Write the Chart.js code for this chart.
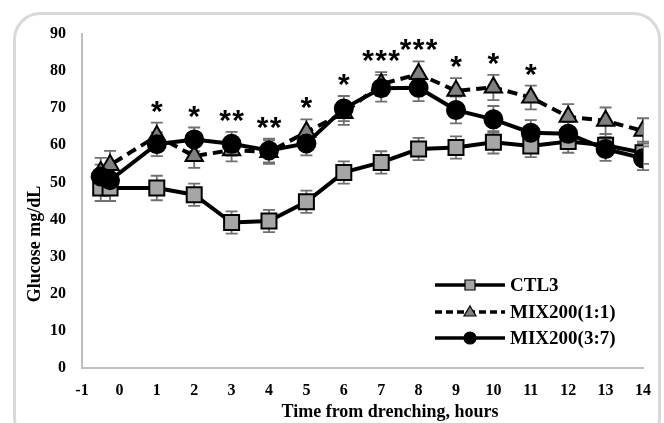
<!DOCTYPE html>
<html>
<head>
<meta charset="utf-8">
<script src="https://cdn.jsdelivr.net/npm/chart.js@4"></script>
<style>
  html, body { margin: 0; padding: 0; background: #fff; }
  #wrap { position: relative; width: 664px; height: 423px; }
</style>
</head>
<body>
<div id="wrap"><canvas id="chart" width="664" height="423"></canvas></div>
<script>
// Glucose after drenching — three groups, mean +/- SE
const hours = [-0.5, -0.25, 1, 2, 3, 4, 5, 6, 7, 8, 9, 10, 11, 12, 13, 14];
const ctl3 = [48.5, 48.5, 48.5, 46.7, 39.2, 39.6, 44.8, 52.7, 55.4, 59.0, 59.4, 60.8, 59.8, 61.0, 60.0, 58.0];
const ctl3Err = [3.5, 3.5, 3.3, 3.0, 3.0, 3.0, 3.0, 3.0, 3.0, 3.0, 3.0, 3.0, 3.0, 3.0, 3.0, 3.0];
const mix11 = [52.8, 54.7, 62.5, 57.1, 58.7, 58.2, 63.6, 68.7, 76.5, 79.2, 74.7, 75.6, 72.9, 67.7, 66.6, 63.9];
const mix11Err = [3.8, 3.8, 3.6, 3.2, 3.0, 3.2, 3.4, 3.2, 3.2, 3.4, 3.4, 3.4, 3.2, 3.4, 3.6, 3.4];
const mix37 = [51.6, 50.6, 60.3, 61.6, 60.4, 58.6, 60.5, 69.9, 75.4, 75.5, 69.5, 67.0, 63.4, 63.1, 59.0, 56.5];
const mix37Err = [3.2, 3.2, 3.2, 3.2, 3.2, 3.2, 3.2, 3.4, 3.6, 3.6, 3.6, 3.6, 3.4, 3.2, 3.2, 3.2];
const starHours = [1, 2, 3, 4, 5, 6, 7, 8, 9, 10, 11];
const starText = ['*', '*', '**', '**', '*', '*', '***', '***', '*', '*', '*'];
const yTicks = [0, 10, 20, 30, 40, 50, 60, 70, 80, 90];
const xTicks = [-1, 0, 1, 2, 3, 4, 5, 6, 7, 8, 9, 10, 11, 12, 13, 14];

const serif = '"Liberation Serif", "Times New Roman", serif';
const series = [
  { label: 'CTL3', y: ctl3, err: ctl3Err, shape: 'rect', r: 10.6, fill: '#a6a6a6', dash: [], order: 2 },
  { label: 'MIX200(1:1)', y: mix11, err: mix11Err, shape: 'triangle', r: 10, fill: '#808080', dash: [10, 6], order: 1 },
  { label: 'MIX200(3:7)', y: mix37, err: mix37Err, shape: 'circle', r: 9, fill: '#000000', dash: [], order: 0 }
];

const datasets = series.map(s => ({
  label: s.label,
  data: hours.map((h, i) => ({ x: h, y: s.y[i] })),
  borderColor: '#000',
  borderWidth: 4,
  borderDash: s.dash,
  pointStyle: s.shape,
  pointRadius: s.r,
  pointBackgroundColor: s.fill,
  pointBorderColor: '#000',
  pointBorderWidth: 2,
  order: s.order,
  tension: 0
}));

// rounded outer frame
const framePlugin = {
  id: 'frame',
  beforeDraw(chart) {
    const ctx = chart.ctx;
    ctx.save();
    ctx.strokeStyle = '#d9d9d9';
    ctx.lineWidth = 3;
    ctx.beginPath();
    ctx.roundRect(14.5, 13.5, 645, 430, 26);
    ctx.stroke();
    ctx.restore();
  }
};

// SE bars behind markers
const errorBars = {
  id: 'errorBars',
  beforeDatasetsDraw(chart) {
    const { ctx, scales: { x, y } } = chart;
    ctx.save();
    ctx.strokeStyle = '#707070';
    ctx.lineWidth = 1.8;
    series.forEach(s => {
      hours.forEach((h, i) => {
        const px = x.getPixelForValue(h);
        const top = y.getPixelForValue(s.y[i] + s.err[i]);
        const bot = y.getPixelForValue(s.y[i] - s.err[i]);
        ctx.beginPath();
        ctx.moveTo(px, top); ctx.lineTo(px, bot);
        ctx.moveTo(px - 6, top); ctx.lineTo(px + 6, top);
        ctx.moveTo(px - 6, bot); ctx.lineTo(px + 6, bot);
        ctx.stroke();
      });
    });
    ctx.restore();
  }
};

// stars, titles and legend
const extras = {
  id: 'extras',
  afterDraw(chart) {
    const { ctx, scales: { x, y } } = chart;
    ctx.save();
    ctx.fillStyle = '#000';
    ctx.textAlign = 'center';
    ctx.textBaseline = 'alphabetic';
    ctx.font = 'bold 30px "Liberation Sans", Arial, sans-serif';
    starHours.forEach((h, k) => {
      const i = hours.indexOf(h);
      const top = Math.max(...series.map(s => s.y[i] + s.err[i]));
      const px = x.getPixelForValue(h);
      const py = y.getPixelForValue(top) - 14;
      const t = starText[k];
      const step = 13;
      for (let j = 0; j < t.length; j++) {
        // asterisk glyph sits high in the em box, so push the baseline down
        ctx.fillText('*', px + (j - (t.length - 1) / 2) * step, py + 12);
      }
    });

    ctx.textBaseline = 'middle';
    ctx.font = 'bold 18px ' + serif;
    ctx.fillText('Time from drenching, hours', 390, 412);
    ctx.save();
    ctx.translate(35, 244);
    ctx.rotate(-Math.PI / 2);
    ctx.fillText('Glucose mg/dL', 0, 0);
    ctx.restore();

    // legend
    const lx0 = 435, lx1 = 505, mx = 470;
    const rows = [285, 312, 338];
    ctx.textAlign = 'left';
    ctx.font = 'bold 19px ' + serif;
    series.forEach((s, k) => {
      const ly = rows[k];
      ctx.save();
      ctx.strokeStyle = '#000';
      ctx.lineWidth = 3.5;
      ctx.setLineDash(s.dash.length ? [7, 4] : []);
      ctx.beginPath();
      ctx.moveTo(lx0, ly); ctx.lineTo(lx1, ly);
      ctx.stroke();
      ctx.restore();
      ctx.save();
      ctx.fillStyle = s.fill;
      ctx.strokeStyle = '#000';
      ctx.lineWidth = 1.2;
      ctx.beginPath();
      if (s.shape === 'rect') ctx.rect(mx - 5, ly - 5, 10, 10);
      else if (s.shape === 'triangle') { ctx.moveTo(mx, ly - 6); ctx.lineTo(mx + 6, ly + 4); ctx.lineTo(mx - 6, ly + 4); ctx.closePath(); }
      else ctx.arc(mx, ly, 6, 0, Math.PI * 2);
      ctx.fill(); ctx.stroke();
      ctx.restore();
      ctx.fillText(s.label, 510, ly + 1);
    });
    ctx.restore();
  }
};

new Chart(document.getElementById('chart'), {
  type: 'line',
  data: { datasets },
  options: {
    responsive: false,
    animation: false,
    layout: { padding: { left: 0, right: 19, top: 34, bottom: 0 } },
    plugins: { legend: { display: false }, tooltip: { enabled: false } },
    scales: {
      x: {
        type: 'linear', min: -1, max: 14,
        afterBuildTicks: s => { s.ticks = xTicks.map(v => ({ value: v })); },
        afterFit: s => { s.height = 55; },
        grid: { display: false, drawTicks: false },
        border: { display: true, color: '#bfbfbf', width: 2 },
        ticks: { padding: 13, color: '#000', font: { family: serif, size: 16, weight: 'bold' } }
      },
      y: {
        min: 0, max: 90,
        afterBuildTicks: s => { s.ticks = yTicks.map(v => ({ value: v })); },
        afterFit: s => { s.width = 82; },
        grid: { display: false, drawTicks: false },
        border: { display: true, color: '#bfbfbf', width: 2 },
        ticks: { padding: 16, color: '#000', font: { family: serif, size: 16, weight: 'bold' } }
      }
    }
  },
  plugins: [framePlugin, errorBars, extras]
});
</script>
</body>
</html>
